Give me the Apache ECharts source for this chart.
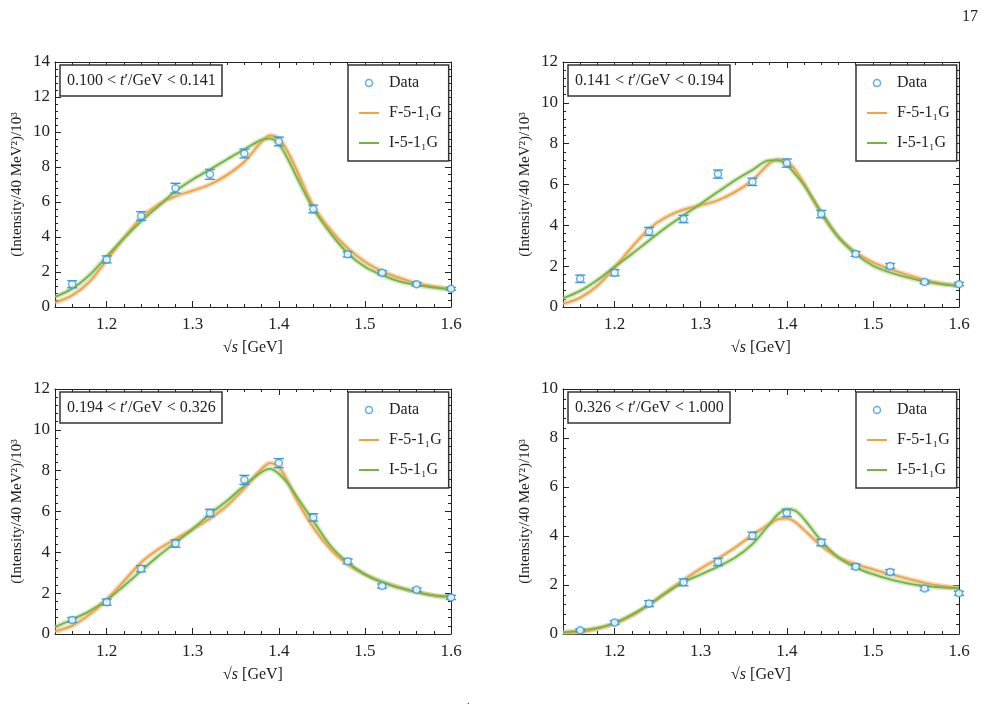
<!DOCTYPE html>
<html>
<head>
<meta charset="utf-8">
<script src="https://cdn.jsdelivr.net/npm/echarts@6/dist/echarts.min.js"></script>
<style>
html, body { margin: 0; background: #fff; }
#main { width: 1002px; height: 710px; }
</style>
</head>
<body>
<div id="main"></div>
<script>
// bin centres (GeV)
var sqrtS = [1.16, 1.20, 1.24, 1.28, 1.32, 1.36, 1.40, 1.44, 1.48, 1.52, 1.56, 1.60];
// x positions where the fit curves were read
var curveX = [1.14, 1.16, 1.18, 1.20, 1.22, 1.24, 1.26, 1.28, 1.30, 1.32, 1.34, 1.36, 1.38,
              1.39, 1.40, 1.41, 1.42, 1.44, 1.46, 1.48, 1.50, 1.52, 1.54, 1.56, 1.58, 1.60];

var xMajor = [1.2, 1.3, 1.4, 1.5, 1.6];
var xMinor = [1.16, 1.18, 1.22, 1.24, 1.26, 1.28, 1.32, 1.34, 1.36, 1.38,
              1.42, 1.44, 1.46, 1.48, 1.52, 1.54, 1.56, 1.58];

// t' bins
var tBins = [['0.100', '0.141'], ['0.141', '0.194'], ['0.194', '0.326'], ['0.326', '1.000']];
var yMax = [14, 12, 12, 10];

// panel 1
var data1 = [1.30, 2.72, 5.20, 6.79, 7.58, 8.77, 9.46, 5.60, 3.01, 1.96, 1.30, 1.04];
var err1  = [0.20, 0.20, 0.25, 0.28, 0.28, 0.25, 0.25, 0.22, 0.15, 0.12, 0.10, 0.08];
var fitF1 = [0.25, 0.67, 1.44, 2.68, 3.93, 5.08, 5.85, 6.33, 6.65, 7.00, 7.55, 8.30, 9.45,
             9.80, 9.62, 8.90, 7.90, 5.78, 4.41, 3.36, 2.59, 2.05, 1.66, 1.36, 1.16, 1.02];
var fitI1 = [0.58, 1.05, 1.82, 2.88, 3.93, 4.89, 5.75, 6.62, 7.29, 7.86, 8.44, 9.01, 9.55,
             9.62, 9.30, 8.50, 7.50, 5.62, 4.22, 3.07, 2.30, 1.82, 1.46, 1.26, 1.11, 1.02];

// panel 2
var data2 = [1.38, 1.68, 3.70, 4.31, 6.51, 6.13, 7.05, 4.55, 2.60, 2.01, 1.22, 1.12];
var err2  = [0.18, 0.15, 0.20, 0.18, 0.20, 0.18, 0.20, 0.18, 0.12, 0.12, 0.08, 0.08];
var fitF2 = [0.16, 0.46, 1.04, 1.94, 2.93, 3.83, 4.41, 4.77, 4.98, 5.23, 5.64, 6.21, 7.04,
             7.23, 7.12, 6.70, 6.05, 4.57, 3.42, 2.68, 2.19, 1.86, 1.58, 1.32, 1.15, 1.04];
var fitI2 = [0.43, 0.79, 1.32, 1.97, 2.60, 3.26, 3.91, 4.49, 5.06, 5.64, 6.21, 6.71, 7.18,
             7.18, 6.95, 6.50, 5.97, 4.65, 3.42, 2.60, 2.02, 1.69, 1.45, 1.25, 1.12, 1.04];

// panel 3
var data3 = [0.69, 1.56, 3.20, 4.43, 5.93, 7.55, 8.37, 5.71, 3.56, 2.35, 2.17, 1.79];
var err3  = [0.12, 0.15, 0.15, 0.18, 0.18, 0.22, 0.22, 0.18, 0.12, 0.10, 0.08, 0.10];
var fitF3 = [0.13, 0.41, 0.95, 1.69, 2.59, 3.50, 4.15, 4.65, 5.14, 5.66, 6.29, 7.14, 8.09,
             8.37, 8.17, 7.50, 6.62, 5.22, 4.15, 3.41, 2.92, 2.54, 2.27, 2.05, 1.89, 1.79];
var fitI3 = [0.34, 0.71, 1.12, 1.66, 2.35, 3.09, 3.82, 4.48, 5.14, 5.88, 6.53, 7.27, 7.93,
             8.09, 7.85, 7.40, 6.78, 5.55, 4.32, 3.50, 2.92, 2.54, 2.27, 2.05, 1.89, 1.82];

// panel 4
var data4 = [0.15, 0.47, 1.24, 2.11, 2.94, 4.01, 4.94, 3.73, 2.75, 2.53, 1.86, 1.66];
var err4  = [0.06, 0.08, 0.12, 0.14, 0.15, 0.15, 0.15, 0.13, 0.10, 0.10, 0.08, 0.08];
var fitF4 = [0.04, 0.08, 0.21, 0.42, 0.75, 1.20, 1.71, 2.20, 2.67, 3.08, 3.53, 4.04, 4.49,
             4.69, 4.72, 4.56, 4.25, 3.60, 3.12, 2.85, 2.64, 2.44, 2.26, 2.09, 1.96, 1.87];
var fitI4 = [0.07, 0.14, 0.25, 0.45, 0.79, 1.20, 1.68, 2.12, 2.43, 2.75, 3.12, 3.67, 4.49,
             4.90, 5.10, 5.03, 4.69, 3.80, 3.12, 2.71, 2.44, 2.23, 2.07, 1.96, 1.90, 1.87];

var panels = [
    { data: data1, err: err1, F: fitF1, I: fitI1 },
    { data: data2, err: err2, F: fitF2, I: fitI2 },
    { data: data3, err: err3, F: fitF3, I: fitI3 },
    { data: data4, err: err4, F: fitF4, I: fitI4 }
];

var BLUE = '#3a9ad9', ORANGE = '#f5a23a', GREEN = '#74b43f';
var FONT = 'Liberation Serif';
var INK = '#222';
var NAME_F = 'F-5-1\u2081G', NAME_I = 'I-5-1\u2081G';

var lefts = [55, 563, 55, 563];
var tops = [62, 62, 389, 389];
var W = 396, H = 245;

var chart = echarts.init(document.getElementById('main'));

var grids = [], xAxes = [], yAxes = [], series = [], titles = [], legends = [];

function pairs(xs, ys) {
    return xs.map(function (x, j) { return [x, ys[j]]; });
}

panels.forEach(function (p, i) {
    grids.push({ left: lefts[i], top: tops[i], width: W, height: H });

    // x axes: bottom major, bottom minor, top major, top minor
    ['bottom', 'top'].forEach(function (pos) {
        var isBottom = pos === 'bottom';
        xAxes.push({
            type: 'value', gridIndex: i, position: pos, min: 1.14, max: 1.6,
            axisLine: { show: true, onZero: false, lineStyle: { color: INK, width: 1 } },
            axisTick: { show: true, inside: true, length: 6, customValues: xMajor, lineStyle: { color: INK } },
            axisLabel: {
                show: isBottom, customValues: xMajor, margin: 9,
                fontFamily: FONT, fontSize: 17, color: INK,
                formatter: function (v) { return v.toFixed(1); }
            },
            splitLine: { show: false },
            name: isBottom ? '\u221A{i|s} [GeV]' : '',
            nameLocation: 'middle', nameGap: 33,
            nameTextStyle: {
                fontFamily: FONT, fontSize: 16, color: INK,
                rich: { i: { fontFamily: FONT, fontSize: 16, fontStyle: 'italic', color: INK } }
            }
        });
        xAxes.push({
            type: 'value', gridIndex: i, position: pos, min: 1.14, max: 1.6,
            axisLine: { show: false, onZero: false },
            axisTick: { show: true, inside: true, length: 3, customValues: xMinor, lineStyle: { color: INK } },
            axisLabel: { show: false },
            splitLine: { show: false }
        });
    });

    ['left', 'right'].forEach(function (pos) {
        var isLeft = pos === 'left';
        yAxes.push({
            type: 'value', gridIndex: i, position: pos, min: 0, max: yMax[i], interval: 2,
            axisLine: { show: true, onZero: false, lineStyle: { color: INK, width: 1 } },
            axisTick: { show: true, inside: true, length: 6, lineStyle: { color: INK } },
            minorTick: { show: true, splitNumber: 5, length: 3, lineStyle: { color: INK } },
            axisLabel: { show: isLeft, margin: 5, fontFamily: FONT, fontSize: 17, color: INK },
            splitLine: { show: false },
            name: isLeft ? '(Intensity/40 MeV\u00B2)/10\u00B3' : '',
            nameLocation: 'middle', nameGap: 30,
            nameTextStyle: { fontFamily: FONT, fontSize: 15, color: INK }
        });
    });

    var xi = 4 * i, yi = 2 * i;

    // uncertainty bands (drawn as wide faint strokes)
    series.push({
        type: 'line', xAxisIndex: xi, yAxisIndex: yi, data: pairs(curveX, p.F),
        smooth: 0.35, symbol: 'none', silent: true, z: 1,
        lineStyle: { color: '#d6b07a', width: 5, opacity: 0.45 }
    });
    series.push({
        type: 'line', xAxisIndex: xi, yAxisIndex: yi, data: pairs(curveX, p.I),
        smooth: 0.35, symbol: 'none', silent: true, z: 1,
        lineStyle: { color: '#9cc97c', width: 5, opacity: 0.45 }
    });
    series.push({
        name: NAME_F, type: 'line', xAxisIndex: xi, yAxisIndex: yi, data: pairs(curveX, p.F),
        smooth: 0.35, symbol: 'none', silent: true, z: 2,
        lineStyle: { color: ORANGE, width: 1.8 }, itemStyle: { color: ORANGE }
    });
    series.push({
        name: NAME_I, type: 'line', xAxisIndex: xi, yAxisIndex: yi, data: pairs(curveX, p.I),
        smooth: 0.35, symbol: 'none', silent: true, z: 3,
        lineStyle: { color: GREEN, width: 1.8 }, itemStyle: { color: GREEN }
    });

    // error bars
    series.push({
        type: 'custom', xAxisIndex: xi, yAxisIndex: yi, silent: true, z: 4,
        data: sqrtS.map(function (x, j) { return [x, p.data[j], p.err[j]]; }),
        renderItem: function (params, api) {
            var x = api.value(0), y = api.value(1), e = api.value(2);
            var hi = api.coord([x, y + e]), lo = api.coord([x, y - e]);
            var w = 5;
            var st = { stroke: BLUE, lineWidth: 1.4 };
            return {
                type: 'group',
                children: [
                    { type: 'line', shape: { x1: hi[0], y1: hi[1], x2: lo[0], y2: lo[1] }, style: st },
                    { type: 'line', shape: { x1: hi[0] - w, y1: hi[1], x2: hi[0] + w, y2: hi[1] }, style: st },
                    { type: 'line', shape: { x1: lo[0] - w, y1: lo[1], x2: lo[0] + w, y2: lo[1] }, style: st }
                ]
            };
        }
    });

    series.push({
        name: 'Data', type: 'scatter', xAxisIndex: xi, yAxisIndex: yi, z: 5,
        data: pairs(sqrtS, p.data),
        symbol: 'circle', symbolSize: 7, silent: true,
        itemStyle: { color: '#fff', borderColor: BLUE, borderWidth: 1.5 }
    });

    titles.push({
        left: lefts[i] + 5, top: tops[i] + 3,
        text: tBins[i][0] + ' < {i|t}\u2032/GeV < ' + tBins[i][1],
        padding: [8, 7, 7, 7],
        borderColor: '#333', borderWidth: 1.5, backgroundColor: '#fff',
        textStyle: {
            fontFamily: FONT, fontSize: 16, fontWeight: 'normal', color: INK,
            rich: { i: { fontFamily: FONT, fontSize: 16, fontStyle: 'italic', color: INK } }
        }
    });

    legends.push({
        orient: 'vertical', left: lefts[i] + 293, top: tops[i] + 3,
        data: [
            { name: 'Data', icon: 'circle', itemStyle: { color: '#fff', borderColor: BLUE, borderWidth: 1.5 } },
            { name: NAME_F, itemStyle: { opacity: 0 }, lineStyle: { color: ORANGE, width: 2 } },
            { name: NAME_I, itemStyle: { opacity: 0 }, lineStyle: { color: GREEN, width: 2 } }
        ],
        itemWidth: 20, itemHeight: 7, itemGap: 14,
        padding: [10, 7, 10, 10],
        borderColor: '#333', borderWidth: 1.5, backgroundColor: '#fff',
        selectedMode: false,
        textStyle: { fontFamily: FONT, fontSize: 16, color: INK, padding: [0, 0, 0, 5] }
    });
});

var option = {
    animation: false,
    backgroundColor: '#fff',
    grid: grids,
    xAxis: xAxes,
    yAxis: yAxes,
    title: titles,
    legend: legends,
    series: series,
    graphic: [
        { type: 'text', left: 962, top: 9, style: { text: '17', fontFamily: FONT, fontSize: 16, fill: INK } },
        { type: 'text', left: 467, top: 696, style: { text: '.', fontFamily: FONT, fontSize: 10, fill: INK } }
    ]
};
chart.setOption(option);
</script>
</body>
</html>
